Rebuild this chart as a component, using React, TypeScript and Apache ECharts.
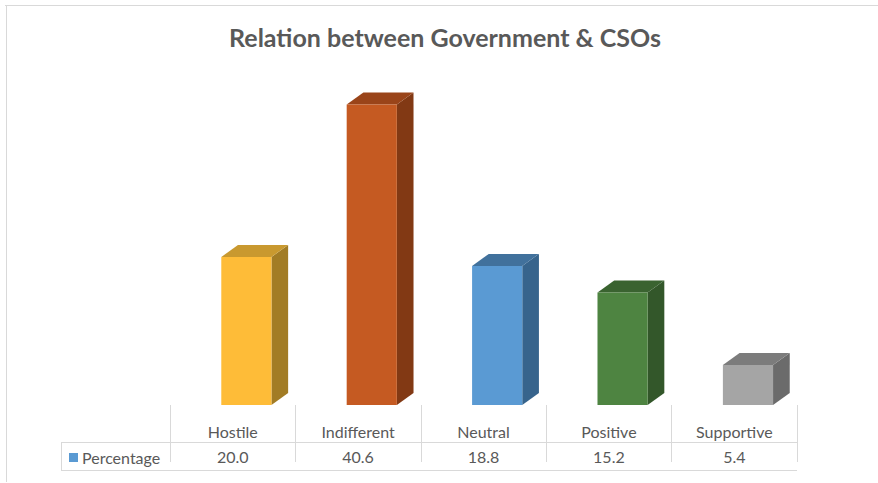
import React, { useEffect, useRef } from "react";
import * as echarts from "echarts";

const titleText = "Relation between Government & CSOs";
const seriesName = "Percentage";
const categories = ["Hostile", "Indifferent", "Neutral", "Positive", "Supportive"];
const values = [20.0, 40.6, 18.8, 15.2, 5.4];
const frontColors = ["#FEBC38", "#C55A22", "#5A9AD3", "#4E8441", "#A5A5A5"];
const topColors = ["#C9992F", "#9A4419", "#41719C", "#3A6330", "#7C7C7C"];
const sideColors = ["#A27C25", "#823914", "#37648C", "#33572A", "#6B6B6B"];

const FONT = "Lato, 'Noto Sans', sans-serif";
const LINE = "#d9d9d9";

export default function App() {
  const ref = useRef<HTMLDivElement>(null);
  useEffect(() => {
    if (!ref.current) return;
    const chart = echarts.init(ref.current, undefined, { renderer: "svg" });
    const gridLeft = 170;
    const gridRight = 81;
    const gridBottom = 78;
    const rowLine = 442;
    const tableBottom = 470;
    const legendLeft = 61;
    const tableRight = 878 - gridRight;

    chart.setOption({
      animation: false,
      backgroundColor: "#ffffff",
      grid: { left: gridLeft, right: gridRight, top: 72, bottom: gridBottom },
      xAxis: [
        {
          type: "category",
          data: categories,
          position: "bottom",
          offset: 8,
          axisLine: { show: false },
          axisTick: { show: true, length: 57, lineStyle: { color: LINE, width: 1 } },
          axisLabel: { margin: 10, color: "#595959", fontSize: 16, fontFamily: FONT },
        },
        {
          type: "category",
          data: values.map((v) => v.toFixed(1)),
          position: "bottom",
          offset: 37,
          axisLine: { show: false },
          axisTick: { show: false },
          axisLabel: { margin: 6, color: "#595959", fontSize: 16, fontFamily: FONT },
        },
      ],
      yAxis: { type: "value", min: 0, max: 45, show: false },
      series: [
        {
          name: seriesName,
          type: "custom",
          xAxisIndex: 0,
          data: values.map((v, i) => [i, v]),
          encode: { x: 0, y: 1 },
          renderItem: (params: any, api: any) => {
            const idx = api.value(0);
            const v = api.value(1);
            const top = api.coord([idx, v]);
            const base = api.coord([idx, 0]);
            const band = api.size([1, 0])[0];
            const w = band * 0.4;
            const shift = band * 0.109;
            const dx = band * 0.133;
            const dy = 12;
            const x0 = top[0] + shift - w / 2;
            const x1 = x0 + w;
            const yT = top[1];
            const yB = base[1];
            return {
              type: "group",
              children: [
                {
                  type: "polygon",
                  shape: { points: [[x1, yT], [x1 + dx, yT - dy], [x1 + dx, yB - dy], [x1, yB]] },
                  style: { fill: sideColors[idx] },
                },
                {
                  type: "polygon",
                  shape: { points: [[x0, yT], [x1, yT], [x1 + dx, yT - dy], [x0 + dx, yT - dy]] },
                  style: { fill: topColors[idx] },
                },
                {
                  type: "rect",
                  shape: { x: x0, y: yT, width: w, height: yB - yT },
                  style: { fill: frontColors[idx] },
                },
              ],
            };
          },
        },
      ],
      graphic: [
        { type: "line", shape: { x1: 5, y1: 5.5, x2: 878, y2: 5.5 }, style: { stroke: LINE, lineWidth: 1 } },
        { type: "line", shape: { x1: 6.5, y1: 5, x2: 6.5, y2: 482 }, style: { stroke: LINE, lineWidth: 1 } },
        {
          type: "text",
          x: 445,
          y: 37,
          style: { text: titleText, fill: "#595959", font: `bold 25px ${FONT}`, textAlign: "center", textVerticalAlign: "middle" },
        },
        { type: "line", shape: { x1: legendLeft, y1: rowLine + 0.5, x2: tableRight, y2: rowLine + 0.5 }, style: { stroke: LINE, lineWidth: 1 } },
        { type: "line", shape: { x1: legendLeft, y1: tableBottom + 0.5, x2: tableRight, y2: tableBottom + 0.5 }, style: { stroke: LINE, lineWidth: 1 } },
        { type: "line", shape: { x1: legendLeft + 0.5, y1: rowLine, x2: legendLeft + 0.5, y2: tableBottom }, style: { stroke: LINE, lineWidth: 1 } },
        { type: "rect", shape: { x: 69, y: 453, width: 9, height: 9 }, style: { fill: frontColors[2] } },
        {
          type: "text",
          x: 82,
          y: 457,
          style: { text: seriesName, fill: "#595959", font: `16px ${FONT}`, textVerticalAlign: "middle" },
        },
      ],
    });
    return () => chart.dispose();
  }, []);
  return <div ref={ref} style={{ position: "fixed", left: 0, top: 0, width: 878, height: 483 }} />;
}
